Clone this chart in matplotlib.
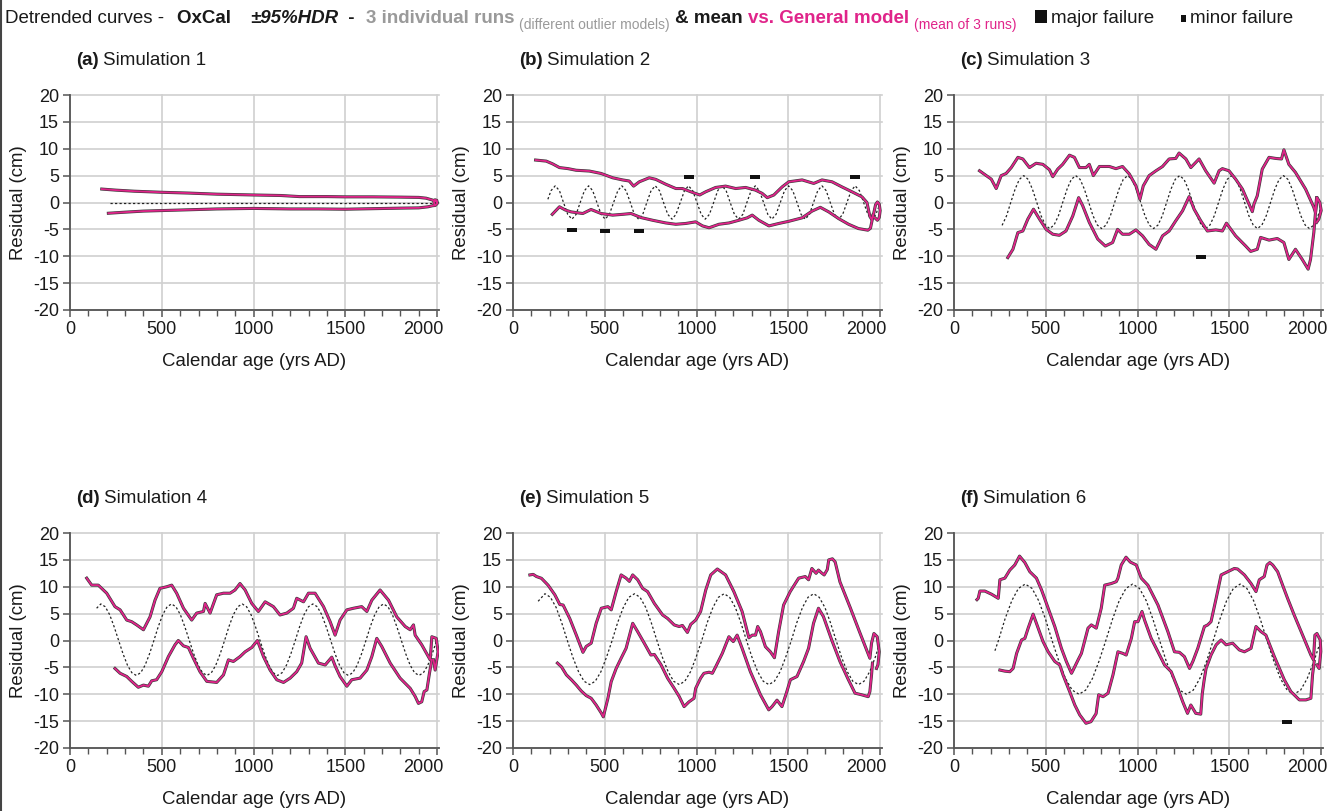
import matplotlib
matplotlib.use('Agg')
import matplotlib.pyplot as plt
from matplotlib.lines import Line2D
from matplotlib.patches import Rectangle
from matplotlib.ticker import MultipleLocator

plt.rcParams['font.family'] = ['Liberation Sans', 'DejaVu Sans']
plt.rcParams['axes.unicode_minus'] = False

W, H = 1334, 811

# ---- data: (calendar year AD, residual cm) ----
# Simulation 1
A_UP = [(173, 2.5), (250, 2.3), (350, 2.1), (500, 1.9), (650, 1.75), (800, 1.55), (1000, 1.4),
        (1150, 1.3), (1250, 1.1), (1400, 1.1), (1500, 1.05), (1650, 1.05), (1800, 1.0),
        (1900, 0.95), (1940, 0.8), (1965, 0.55), (1985, 0.35), (1995, 0.2), (2000, 0.0)]
A_LO = [(209, -2.0), (300, -1.8), (400, -1.6), (500, -1.5), (650, -1.35), (800, -1.2),
        (1000, -1.1), (1200, -1.2), (1350, -1.2), (1500, -1.25), (1650, -1.15), (1800, -1.05),
        (1900, -1.0), (1950, -0.8), (1975, -0.6), (1990, -0.55), (2000, -0.2), (1998, 0.4),
        (1988, 0.5), (1982, 0.1), (1985, -0.3)]
A_DASH = [(220, 0.0), (1975, 0.0)]
A_FAIL = []

# Simulation 2
B_UP = [(123, 7.9), (181, 7.7), (215, 7.2), (253, 6.5), (300, 6.3), (344, 6.0), (416, 5.85),
        (480, 5.4), (543, 4.6), (597, 4.2), (633, 4.0), (657, 3.05), (688, 3.85), (742, 4.6),
        (778, 4.3), (832, 3.4), (887, 2.6), (923, 2.6), (968, 2.0), (1017, 1.4), (1050, 2.0),
        (1104, 2.8), (1158, 3.05), (1213, 2.6), (1267, 2.8), (1321, 2.3), (1357, 1.7),
        (1385, 0.9), (1421, 1.4), (1466, 2.9), (1502, 3.85), (1575, 4.2), (1638, 3.55),
        (1683, 4.2), (1738, 3.85), (1792, 2.9), (1846, 2.0), (1901, 1.05), (1928, 0.0),
        (1944, -2.6), (1955, -3.2), (1965, -2.0), (1975, -0.4), (1985, 0.1), (1995, -0.3),
        (2000, -1.5), (1995, -2.8), (1985, -3.3), (1970, -2.8)]
B_LO = [(214, -2.2), (253, -0.8), (285, -1.4), (317, -1.75), (380, -2.05), (425, -1.3),
        (480, -2.05), (543, -2.35), (597, -2.2), (643, -2.05), (697, -2.8), (760, -3.3),
        (832, -3.8), (887, -4.05), (941, -3.9), (995, -3.6), (1032, -4.35), (1068, -4.7),
        (1122, -4.05), (1177, -3.8), (1231, -3.3), (1276, -2.85), (1303, -2.35), (1339, -3.3),
        (1394, -4.35), (1448, -3.9), (1502, -3.5), (1575, -2.85), (1629, -1.6), (1674, -0.9),
        (1720, -1.75), (1774, -3.0), (1828, -4.05), (1882, -4.85), (1933, -5.15),
        (1947, -4.8), (1955, -3.5), (1960, -2.4)]
B_DASH = [(190, 0.6), (207, 2.2), (230, 3.1), (253, 2.2), (275, 0), (298, -2.2), (321, -3.1),
          (344, -2.2), (366, 0), (389, 2.2), (412, 3.1), (434, 2.2), (457, 0), (480, -2.2),
          (502, -3.1), (525, -2.2), (548, 0), (571, 2.2), (593, 3.1), (616, 2.2), (639, 0),
          (661, -2.2), (684, -3.1), (707, -2.2), (729, 0), (752, 2.2), (775, 3.1), (798, 2.2),
          (820, 0), (843, -2.2), (866, -3.1), (888, -2.2), (911, 0), (934, 2.2), (956, 3.1),
          (979, 2.2), (1002, 0), (1025, -2.2), (1047, -3.1), (1070, -2.2), (1093, 0),
          (1115, 2.2), (1138, 3.1), (1161, 2.2), (1183, 0), (1206, -2.2), (1229, -3.1),
          (1252, -2.2), (1274, 0), (1297, 2.2), (1320, 3.1), (1342, 2.2), (1365, 0),
          (1388, -2.2), (1410, -3.1), (1433, -2.2), (1456, 0), (1479, 2.2), (1501, 3.1),
          (1524, 2.2), (1547, 0), (1569, -2.2), (1592, -3.1), (1615, -2.2), (1637, 0),
          (1660, 2.2), (1683, 3.1), (1706, 2.2), (1728, 0), (1751, -2.2), (1774, -3.1),
          (1796, -2.2), (1819, 0), (1842, 2.2), (1864, 3.1), (1887, 2.2), (1910, 0),
          (1933, -2.2), (1955, -3.1), (1978, -2.2), (1988, -1.0)]
B_FAIL = [(320, -5.15), (500, -5.3), (688, -5.3), (956, 4.8), (1316, 4.8), (1861, 4.8)]

# Simulation 3
C_UP = [(139, 5.9), (176, 5.0), (203, 4.35), (230, 2.6), (257, 5.0), (284, 5.4), (312, 6.5),
        (348, 8.4), (375, 8.1), (411, 6.5), (447, 7.3), (484, 7.1), (520, 6.1), (538, 4.8),
        (565, 6.2), (592, 7.1), (629, 8.8), (656, 8.4), (683, 6.5), (719, 6.5), (737, 7.1),
        (759, 5.0), (792, 6.7), (846, 6.7), (882, 6.3), (918, 6.7), (955, 5.3), (991, 3.1),
        (1013, 0.6), (1031, 3.1), (1063, 5.0), (1100, 5.9), (1136, 6.7), (1172, 8.1),
        (1208, 8.2), (1226, 9.2), (1263, 8.1), (1290, 6.5), (1335, 8.1), (1371, 5.9),
        (1417, 3.6), (1444, 5.9), (1462, 6.3), (1498, 5.9), (1534, 4.35), (1571, 2.5),
        (1625, -1.7), (1634, -0.3), (1652, 1.25), (1679, 6.2), (1716, 8.4), (1752, 8.2),
        (1784, 8.1), (1797, 9.8), (1824, 7.1), (1860, 5.6), (1915, 2.5), (1960, -0.9),
        (1969, -1.9), (1978, 0.9), (1993, 0.0), (2000, -1.5), (1987, -3.1), (1975, -3.7)]
C_LO = [(293, -10.25), (321, -8.7), (348, -5.6), (375, -5.3), (402, -3.1), (433, -1.25),
        (466, -3.1), (502, -5.0), (538, -5.9), (574, -6.1), (610, -5.3), (647, -2.5),
        (679, 0.9), (701, -0.6), (737, -3.7), (783, -6.8), (824, -8.1), (864, -7.45),
        (891, -5.0), (918, -5.9), (955, -5.9), (991, -5.1), (1027, -6.2), (1063, -7.8),
        (1100, -8.7), (1136, -6.2), (1172, -5.3), (1208, -3.4), (1245, -1.55), (1281, 1.1),
        (1308, -1.25), (1344, -3.4), (1380, -5.3), (1426, -5.1), (1462, -5.3), (1484, -3.85),
        (1534, -6.2), (1589, -8.1), (1616, -9.1), (1652, -8.7), (1670, -6.5), (1716, -7.0),
        (1761, -6.7), (1797, -7.45), (1824, -10.6), (1860, -8.7), (1897, -10.6),
        (1929, -12.4), (1942, -10.6), (1960, -5.6), (1969, -1.9), (1975, 0.9)]
C_DASH = [(262, -4.25), (286, -2.5), (309, 0), (333, 2.5), (356, 4.3), (380, 5.0), (404, 4.3),
          (427, 2.5), (451, 0), (474, -2.45), (498, -4.2), (521, -4.85), (545, -4.2),
          (569, -2.45), (592, 0), (616, 2.5), (639, 4.3), (663, 5.0), (687, 4.3), (710, 2.5),
          (734, 0), (757, -2.45), (781, -4.2), (804, -4.85), (828, -4.2), (852, -2.45),
          (875, 0), (899, 2.5), (922, 4.3), (946, 5.0), (970, 4.3), (993, 2.5), (1017, 0),
          (1040, -2.45), (1064, -4.2), (1087, -4.85), (1111, -4.2), (1135, -2.45), (1158, 0),
          (1182, 2.5), (1205, 4.3), (1229, 5.0), (1253, 4.3), (1276, 2.5), (1300, 0),
          (1323, -2.45), (1347, -4.2), (1370, -4.85), (1394, -4.2), (1418, -2.45), (1441, 0),
          (1465, 2.5), (1488, 4.3), (1512, 5.0), (1536, 4.3), (1559, 2.5), (1583, 0),
          (1606, -2.45), (1630, -4.2), (1653, -4.85), (1677, -4.2), (1701, -2.45), (1724, 0),
          (1748, 2.5), (1771, 4.3), (1795, 5.0), (1819, 4.3), (1842, 2.5), (1866, 0),
          (1889, -2.45), (1913, -4.2), (1936, -4.85), (1960, -4.2), (1983, -2.45), (2000, -0.8)]
C_FAIL = [(1344, -10.1)]

# Simulation 4
D_UP = [(91, 11.6), (118, 10.3), (154, 10.3), (200, 8.8), (245, 6.3), (273, 5.7), (309, 3.8),
        (336, 3.5), (363, 2.9), (400, 2.0), (436, 4.4), (463, 7.5), (490, 9.7), (527, 10.0),
        (554, 10.3), (581, 8.8), (618, 6.0), (663, 3.8), (690, 5.1), (727, 5.4), (736, 6.9),
        (763, 5.1), (799, 8.5), (836, 8.8), (872, 8.8), (899, 9.4), (926, 10.6), (954, 9.4),
        (990, 6.9), (1026, 5.4), (1063, 7.2), (1108, 6.3), (1144, 4.75), (1181, 5.1),
        (1217, 6.0), (1235, 7.85), (1272, 7.2), (1299, 8.8), (1335, 8.8), (1381, 6.3),
        (1417, 3.5), (1444, 1.0), (1471, 3.8), (1508, 5.7), (1544, 6.0), (1589, 6.3),
        (1617, 5.4), (1644, 7.5), (1689, 9.4), (1735, 7.5), (1780, 4.4), (1826, 2.6),
        (1853, 2.0), (1871, 2.9), (1880, 1.0), (1916, -0.8), (1962, -3.6), (1971, 0.7),
        (1995, 0.4), (2005, -2.1), (1989, -5.5), (1980, -3.6)]
D_LO = [(245, -5.2), (273, -6.1), (309, -6.7), (336, -7.6), (372, -8.7), (400, -8.3),
        (427, -8.5), (445, -7.5), (472, -7.3), (500, -5.8), (536, -3.0), (572, -0.8),
        (590, 0.0), (618, -1.0), (645, -1.3), (672, -3.3), (708, -5.8), (745, -7.6),
        (799, -7.8), (836, -6.4), (863, -3.6), (890, -3.9), (926, -3.0), (954, -2.1),
        (990, -1.3), (1021, 0.0), (1054, -3.0), (1090, -5.5), (1126, -7.3), (1163, -7.8),
        (1199, -7.0), (1235, -5.8), (1262, -4.2), (1286, 0.7), (1308, -1.45), (1353, -4.2),
        (1390, -4.55), (1426, -3.1), (1444, -4.7), (1471, -6.7), (1508, -8.5), (1535, -7.3),
        (1580, -7.0), (1617, -5.5), (1644, -3.0), (1671, 0.4), (1698, -1.1), (1744, -4.2),
        (1798, -7.0), (1853, -8.9), (1880, -10.4), (1898, -11.7), (1916, -11.4),
        (1929, -9.5), (1944, -9.2), (1958, -6.1), (1971, -3.6)]
D_DASH = [(145, 6.0), (168, 6.8), (192, 6.28), (216, 4.81), (240, 2.6), (265, 0), (289, -2.49),
          (313, -4.6), (337, -6.0), (361, -6.5), (385, -6.0), (409, -4.6), (433, -2.49),
          (457, 0), (481, 2.6), (505, 4.81), (529, 6.28), (553, 6.8), (577, 6.28), (601, 4.81),
          (625, 2.6), (650, 0), (674, -2.49), (698, -4.6), (722, -6.0), (746, -6.5),
          (770, -6.0), (794, -4.6), (818, -2.49), (842, 0), (866, 2.6), (890, 4.81),
          (914, 6.28), (938, 6.8), (962, 6.28), (986, 4.81), (1010, 2.6), (1035, 0),
          (1059, -2.49), (1083, -4.6), (1107, -6.0), (1131, -6.5), (1155, -6.0), (1179, -4.6),
          (1203, -2.49), (1227, 0), (1251, 2.6), (1275, 4.81), (1299, 6.28), (1323, 6.8),
          (1347, 6.28), (1371, 4.81), (1395, 2.6), (1420, 0), (1444, -2.49), (1468, -4.6),
          (1492, -6.0), (1516, -6.5), (1540, -6.0), (1564, -4.6), (1588, -2.49), (1612, 0),
          (1636, 2.6), (1660, 4.81), (1684, 6.28), (1708, 6.8), (1732, 6.28), (1756, 4.81),
          (1780, 2.6), (1805, 0), (1829, -2.49), (1853, -4.6), (1877, -6.0), (1901, -6.5),
          (1925, -6.0), (1949, -4.6), (1973, -2.49), (1997, 0)]
D_FAIL = []

# Simulation 5
E_UP = [(92, 12.2), (110, 12.3), (128, 11.9), (155, 11.57), (191, 10.3), (228, 8.5), (255, 6.7),
        (273, 6.6), (309, 4.1), (345, 1.0), (381, -2.2), (399, -1.1), (426, -0.5), (453, 3.2),
        (481, 6.0), (517, 6.3), (535, 5.7), (562, 9.1), (589, 12.2), (616, 11.6), (634, 11.0),
        (652, 12.2), (679, 11.3), (706, 9.7), (733, 9.1), (770, 6.9), (815, 4.75), (842, 4.1),
        (878, 2.9), (905, 2.6), (923, 2.8), (950, 1.5), (968, 3.0), (995, 3.8), (1022, 5.4),
        (1050, 9.4), (1077, 12.2), (1113, 13.3), (1158, 12.2), (1203, 9.1), (1248, 5.4),
        (1285, 0.5), (1303, 1.0), (1321, 1.0), (1333, 2.6), (1348, 1.65), (1375, -1.15),
        (1402, -2.1), (1424, -3.2), (1447, 1.65), (1474, 6.6), (1510, 9.1), (1556, 11.6),
        (1592, 11.9), (1610, 11.3), (1628, 13.4), (1651, 12.5), (1664, 13.1), (1680, 12.6),
        (1695, 12.2), (1712, 13.2), (1720, 15.0), (1740, 15.2), (1755, 14.6), (1781, 10.9),
        (1836, 6.2), (1890, 1.4), (1944, -3.3), (1953, -0.5), (1966, 1.3), (1984, 0.7),
        (1995, -2.1), (1988, -4.5), (1980, -5.2)]
E_LO = [(242, -4.2), (264, -4.9), (291, -6.4), (318, -7.3), (345, -8.3), (372, -9.4),
        (399, -10.25), (426, -10.75), (453, -12.0), (481, -13.5), (492, -14.2), (517, -10.75),
        (535, -7.65), (562, -5.2), (589, -3.3), (616, -1.45), (652, 3.2), (679, 1.65),
        (715, -0.5), (751, -2.7), (770, -2.6), (806, -4.5), (842, -7.0), (878, -8.9),
        (905, -10.4), (932, -12.3), (959, -11.4), (986, -10.75), (995, -8.9), (1022, -7.0),
        (1040, -6.1), (1068, -5.9), (1086, -6.1), (1104, -4.9), (1140, -2.4), (1176, 0.7),
        (1200, -0.2), (1221, 1.0), (1248, -1.45), (1293, -5.8), (1348, -10.1), (1393, -12.9),
        (1411, -12.3), (1438, -11.1), (1465, -12.3), (1489, -9.8), (1511, -7.3), (1547, -6.7),
        (1583, -3.9), (1610, -1.45), (1637, 3.2), (1664, 6.0), (1691, 4.45), (1736, 0.1),
        (1781, -3.9), (1827, -7.3), (1863, -9.8), (1899, -10.1), (1935, -10.45),
        (1944, -9.5), (1953, -6.4), (1958, -4.2)]
E_DASH = [(137, 7.3), (174, 8.7), (204, 8.04), (235, 6.15), (265, 3.33), (296, 0), (326, -3.14),
          (357, -5.8), (387, -7.58), (418, -8.2), (448, -7.58), (479, -5.8), (509, -3.14),
          (540, 0), (570, 3.33), (601, 6.15), (631, 8.04), (662, 8.7), (692, 8.04), (723, 6.15),
          (753, 3.33), (784, 0), (814, -3.14), (845, -5.8), (875, -7.58), (906, -8.2),
          (936, -7.58), (967, -5.8), (997, -3.14), (1028, 0), (1058, 3.33), (1089, 6.15),
          (1119, 8.04), (1150, 8.7), (1180, 8.04), (1211, 6.15), (1241, 3.33), (1272, 0),
          (1302, -3.14), (1333, -5.8), (1363, -7.58), (1394, -8.2), (1424, -7.58), (1455, -5.8),
          (1485, -3.14), (1516, 0), (1546, 3.33), (1577, 6.15), (1607, 8.04), (1638, 8.7),
          (1668, 8.04), (1699, 6.15), (1729, 3.33), (1760, 0), (1790, -3.14), (1821, -5.8),
          (1851, -7.58), (1882, -8.2), (1912, -7.58), (1943, -5.8), (1973, -3.14), (1995, -0.8)]
E_FAIL = []

# Simulation 6
F_UP = [(125, 7.6), (132, 7.85), (141, 9.2), (168, 9.2), (205, 8.6), (241, 7.85), (250, 11.3),
        (277, 11.6), (304, 13.1), (331, 14.05), (357, 15.7), (386, 14.5), (413, 12.8),
        (449, 11.6), (477, 9.4), (513, 6.0), (549, 2.6), (585, -1.45), (612, -3.9),
        (640, -6.1), (649, -5.5), (676, -3.6), (694, -2.4), (730, 2.3), (748, 2.9), (775, 2.3),
        (802, 6.0), (821, 10.3), (857, 10.6), (884, 10.95), (893, 11.6), (911, 14.05),
        (937, 15.5), (960, 14.6), (993, 14.05), (1020, 11.6), (1056, 10.3), (1111, 6.6),
        (1165, 1.65), (1201, -2.1), (1228, -2.2), (1255, -3.0), (1283, -5.2), (1301, -3.9),
        (1328, -1.45), (1364, 2.6), (1382, 2.9), (1400, 3.5), (1428, 7.85), (1455, 12.2),
        (1491, 12.8), (1527, 13.4), (1545, 13.3), (1582, 12.2), (1618, 10.6), (1645, 9.1),
        (1663, 11.3), (1690, 11.9), (1705, 14.05), (1720, 14.5), (1736, 14.05), (1763, 12.8),
        (1790, 10.3), (1817, 7.85), (1853, 4.75), (1899, 1.0), (1944, -2.7), (1958, -3.6),
        (1966, 1.0), (1977, 1.3), (1995, 0.1), (1998, -2.05), (1989, -5.2), (1977, -4.55)]
F_LO = [(250, -5.5), (277, -5.7), (304, -5.8), (322, -5.2), (341, -2.4), (368, 0.1), (386, 0.4),
        (404, 2.3), (431, 4.9), (449, 3.2), (485, -0.2), (513, -2.1), (549, -3.9), (576, -4.55),
        (594, -6.4), (630, -9.5), (658, -12.0), (685, -13.85), (719, -15.4), (746, -15.1),
        (774, -13.6), (788, -10.1), (812, -10.45), (839, -9.8), (866, -6.4), (893, -2.1),
        (920, -2.4), (938, -2.7), (966, 0.4), (984, 3.5), (1002, 3.5), (1024, 5.4),
        (1038, 3.8), (1074, 0.4), (1111, -2.1), (1147, -4.55), (1183, -5.8), (1219, -8.9),
        (1246, -11.4), (1272, -13.55), (1290, -12.0), (1317, -13.55), (1344, -13.7),
        (1352, -10.0), (1362, -7.5), (1373, -5.2), (1400, -2.7), (1428, -0.8), (1455, 0.1),
        (1482, -0.8), (1518, -0.5), (1554, -1.75), (1582, -2.1), (1618, -1.45), (1645, 2.6),
        (1672, 1.65), (1699, 1.0), (1745, -3.0), (1799, -7.3), (1835, -9.5), (1881, -11.05),
        (1917, -11.05), (1944, -10.75), (1953, -6.4), (1962, -3.9)]
F_DASH = [(223, -1.9), (242, 0), (278, 4.02), (315, 7.42), (351, 9.7), (388, 10.5), (425, 9.7),
          (461, 7.42), (498, 4.02), (534, 0), (571, -3.83), (607, -7.07), (644, -9.24),
          (681, -10.0), (717, -9.24), (754, -7.07), (790, -3.83), (827, 0), (864, 4.02),
          (900, 7.42), (937, 9.7), (973, 10.5), (1010, 9.7), (1047, 7.42), (1083, 4.02),
          (1120, 0), (1156, -3.83), (1193, -7.07), (1229, -9.24), (1266, -10.0), (1303, -9.24),
          (1339, -7.07), (1376, -3.83), (1412, 0), (1449, 4.02), (1485, 7.42), (1522, 9.7),
          (1559, 10.5), (1595, 9.7), (1632, 7.42), (1668, 4.02), (1705, 0), (1742, -3.83),
          (1778, -7.07), (1815, -9.24), (1851, -10.0), (1888, -9.24), (1924, -7.07),
          (1961, -3.83), (1998, 0)]
F_FAIL = [(1815, -15.2)]

PANELS = [
    ('(a)', 'Simulation 1', A_UP, A_LO, A_DASH, A_FAIL),
    ('(b)', 'Simulation 2', B_UP, B_LO, B_DASH, B_FAIL),
    ('(c)', 'Simulation 3', C_UP, C_LO, C_DASH, C_FAIL),
    ('(d)', 'Simulation 4', D_UP, D_LO, D_DASH, D_FAIL),
    ('(e)', 'Simulation 5', E_UP, E_LO, E_DASH, E_FAIL),
    ('(f)', 'Simulation 6', F_UP, F_LO, F_DASH, F_FAIL),
]
X_TICKS = [0, 500, 1000, 1500, 2000]
Y_TICKS = [-20, -15, -10, -5, 0, 5, 10, 15, 20]

RUN_GREY = '#3a3a3a'
MEAN_PINK = '#e0248a'
AXIS_GREY = '#555555'
GRID_GREY = '#d0d0d0'
TXT = '#1a1a1a'

fig = plt.figure(figsize=(W / 100, H / 100), dpi=100)
renderer = fig.canvas.get_renderer()

AX_LEFT = [70, 513, 954]   # px
AX_TOP = [95, 533]         # px
AX_W, AX_H = 369, 215      # px

# flat rectangle marker for failures
fail_marker = [(-1, -0.42), (1, -0.42), (1, 0.42), (-1, 0.42), (-1, -0.42)]


def xy(pairs):
    return [p[0] for p in pairs], [p[1] for p in pairs]


def put_text(x_px, y_px, s, **kw):
    t = fig.text(x_px / W, 1 - y_px / H, s, ha='left', va='baseline', **kw)
    return t.get_window_extent(renderer).x1


for i, (tag, name, up, lo, dash, fail) in enumerate(PANELS):
    col, row = i % 3, i // 3
    left, top = AX_LEFT[col], AX_TOP[row]
    ax = fig.add_axes([left / W, 1 - (top + AX_H) / H, AX_W / W, AX_H / H])

    for curve in (up, lo):
        x, y = xy(curve)
        ax.plot(x, y, color=RUN_GREY, lw=2.2, solid_joinstyle='round', zorder=3)
        ax.plot(x, y, color=MEAN_PINK, lw=1.3, solid_joinstyle='round', zorder=4)
    x, y = xy(dash)
    ax.plot(x, y, color='#222222', lw=0.9, linestyle=(0, (1.8, 1.8)), zorder=2)
    if fail:
        x, y = xy(fail)
        ax.scatter(x, y, marker=fail_marker, s=55, color='#111111', zorder=5, linewidths=0)

    ax.set_xlim(0, 2010)
    ax.set_ylim(-20, 20)
    ax.set_xticks(X_TICKS)
    ax.set_xticklabels([str(v) for v in X_TICKS[:-1]] + [''])
    ax.xaxis.set_minor_locator(MultipleLocator(100))
    ax.set_yticks(Y_TICKS)
    ax.grid(True, which='major', color=GRID_GREY, lw=1.2)
    for gl in ax.get_xgridlines() + ax.get_ygridlines():
        gl.set_clip_on(False)
    ax.set_axisbelow(True)
    for s in ('top', 'right'):
        ax.spines[s].set_visible(False)
    for s in ('left', 'bottom'):
        ax.spines[s].set_color(AXIS_GREY)
        ax.spines[s].set_linewidth(1.3)
    ax.tick_params(which='major', direction='out', length=5, width=1.1, color=AXIS_GREY,
                   labelsize=13, labelcolor=TXT, pad=3)
    ax.tick_params(which='minor', direction='out', length=4, width=1.0, color=AXIS_GREY)
    # last x label pulled left so it stays inside the panel
    ax.annotate(str(X_TICKS[-1]), xy=(X_TICKS[-1], -20), xytext=(-10, -8),
                textcoords='offset points', ha='center', va='top', fontsize=13, color=TXT,
                annotation_clip=False)
    ax.set_xlabel('Calendar age (yrs AD)', fontsize=13.4, color=TXT, labelpad=11)
    ax.set_ylabel('Residual (cm)', fontsize=13.4, color=TXT, labelpad=4)

    # panel title
    xt = put_text(left + 6, top - 30, tag, fontsize=13.5, fontweight='bold', color=TXT)
    put_text(xt + 4, top - 30, name, fontsize=13.5, color=TXT)

# header line
HF = ['Liberation Sans', 'DejaVu Sans']
base = 23
x = 5
x = put_text(x, base, 'Detrended curves - ', fontsize=13.5, family=HF, color=TXT)
x = put_text(x + 8, base, 'OxCal  ', fontsize=13.5, family=HF, fontweight='bold', color=TXT)
x = put_text(x + 8, base, '\u00b195%HDR', fontsize=13.5, family=HF, fontweight='bold',
             fontstyle='italic', color=TXT)
x = put_text(x + 5, base, ' - ', fontsize=13.5, family=HF, fontweight='bold', color=TXT)
x = put_text(x + 6, base, '3 individual runs ', fontsize=13.5, family=HF, fontweight='bold',
             color='#9a9a9a')
x = put_text(x, base + 6, '(different outlier models)', fontsize=10, family=HF, color='#9a9a9a')
x = put_text(x + 5, base, '& mean ', fontsize=13.5, family=HF, fontweight='bold', color=TXT)
x = put_text(x, base, 'vs. General model ', fontsize=13.5, family=HF, fontweight='bold',
             color=MEAN_PINK)
x = put_text(x, base + 6, '(mean of 3 runs)', fontsize=10, family=HF, color=MEAN_PINK)

fig.add_artist(Rectangle((1035 / W, 1 - 23 / H), 12 / W, 13 / H, transform=fig.transFigure,
                         facecolor='#111111', edgecolor='none'))
put_text(1051, base, 'major failure', fontsize=13.5, family=HF, color=TXT)
fig.add_artist(Rectangle((1181 / W, 1 - 22 / H), 5 / W, 7 / H, transform=fig.transFigure,
                         facecolor='#111111', edgecolor='none'))
put_text(1190, base, 'minor failure', fontsize=13.5, family=HF, color=TXT)

# frame edge at the left
fig.add_artist(Line2D([1.5 / W, 1.5 / W], [0, 1], transform=fig.transFigure, color='#444444', lw=1.5))

fig.savefig('out.png', dpi=100)
